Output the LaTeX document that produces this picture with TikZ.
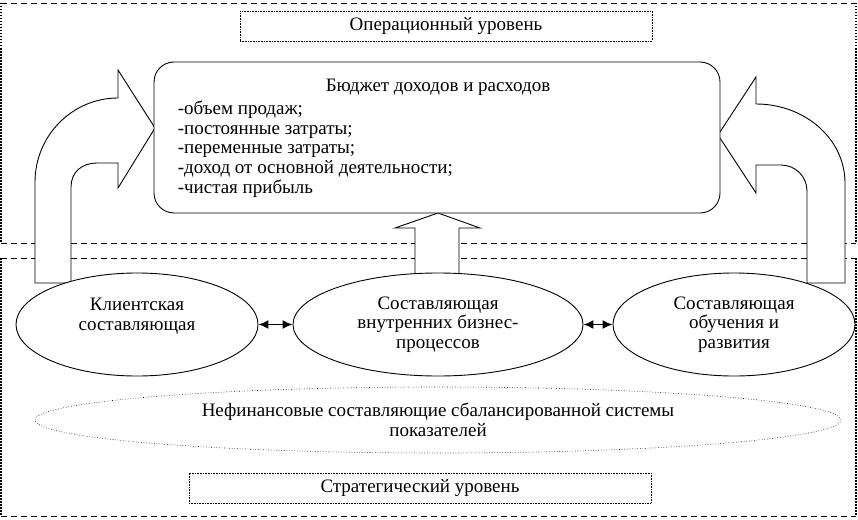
\documentclass[tikz,border=0pt]{standalone}
\usepackage{fontspec}
\setmainfont{Liberation Serif}
\usetikzlibrary{shapes.geometric, arrows.meta}

\begin{document}
\begin{tikzpicture}[x=1pt, y=-1pt, line width=0.9pt,
    every node/.style={font=\fontsize{19}{19.75}\selectfont, align=center},
    level/.style={dash pattern=on 6pt off 4pt},
    levelside/.style={line width=1.4pt, dash pattern=on 1.5pt off 1.5pt},
    levelbox/.style={draw, line width=0.6pt, dash pattern=on 0.8pt off 0.8pt, minimum width=412pt, minimum height=30pt, inner sep=0pt},
    part/.style={draw, ellipse, fill=white, inner sep=0pt, minimum height=103pt},
    bigarrow/.style={draw, fill=white, line join=miter},
    both/.style={line width=1.5pt, {Latex[length=10pt,width=9pt]}-{Latex[length=10pt,width=9pt]}}]
    \useasboundingbox (0,0) rectangle (858,519);

    % Operational and strategic levels
    \foreach \t/\b in {3/243, 258/516} {
        \draw[level] (1,\t) -- (856,\t) (1,\b) -- (856,\b);
        \draw[levelside] (1,\t) -- (1,\b) (856,\t) -- (856,\b);
    }
    \node[levelbox] (oplevel) at (446,26) {Операционный уровень};
    \node[levelbox, minimum width=462pt] (stlevel) at (420,488) {Стратегический уровень};

    % Bent arrows into the budget
    \draw[bigarrow] (35,283) -- (35,182) .. controls (35,136) and (72,98) .. (118,98)
        -- (118,70) -- (155,128) -- (118,188) -- (118,163) -- (97,163)
        .. controls (82,163) and (71,172) .. (71,187) -- (71,283) -- cycle;
    \draw[bigarrow] (845,283) -- (845,183) .. controls (845,139) and (805,104) .. (756,104)
        -- (756,77) -- (718,135) -- (756,193) -- (756,165) -- (781,165)
        .. controls (795,165) and (807,176) .. (807,191) -- (807,283) -- cycle;
    \draw[bigarrow] (415,273) -- (415,228) -- (395,228) -- (438,213) -- (480,228)
        -- (459,228) -- (459,273);

    % Budget
    \node[draw, rounded corners=20pt, fill=white, minimum width=566pt, minimum height=151pt] (budget) at (437,137.5) {};
    \node (budgettitle) at (438,87) {Бюджет доходов и расходов};
    \node[anchor=west, align=left] (budgetitems) at (174,149) {-объем продаж;\\-постоянные затраты;\\-переменные затраты;\\-доход от основной деятельности;\\-чистая прибыль};

    % Components
    \node[part, minimum width=242pt] (client) at (137,324.5) {Клиентская\\составляющая\\ };
    \node[part, minimum width=290pt] (process) at (438,324.5) {Составляющая\\внутренних бизнес-\\процессов};
    \node[part, minimum width=242pt] (growth) at (734,324.5) {Составляющая\\обучения и\\развития};
    \foreach \a/\b in {client/process, process/growth} {
        \draw[both] (\a) -- (\b);
    }

    % Non-financial components
    \node[draw, ellipse, dotted, line width=0.6pt, minimum width=806pt, minimum height=66pt, inner sep=0pt] (nonfin) at (438,420) {Нефинансовые составляющие сбалансированной системы\\показателей};
\end{tikzpicture}
\end{document}
